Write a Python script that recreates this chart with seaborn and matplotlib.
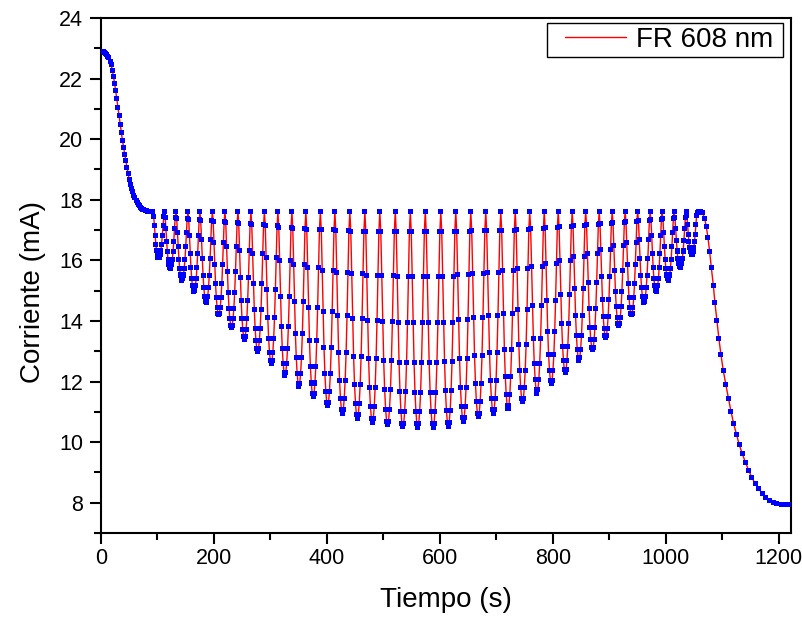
import numpy as np
import pandas as pd
import matplotlib
matplotlib.use("Agg")
import matplotlib.pyplot as plt
import seaborn as sns
from matplotlib.ticker import MultipleLocator
from matplotlib.patches import Rectangle

# Tramo inicial (s, mA)
t_inicio = [0, 2, 4, 6, 8, 10, 12, 14, 16, 18, 20, 22, 24, 26, 28, 30, 32, 34, 36, 38,
            40, 42, 44, 46, 48, 50, 52, 54, 56, 58, 60, 62, 64, 66, 68, 70, 72, 74, 76,
            78, 80, 82, 84, 86, 88, 90]
i_inicio = [22.90, 22.90, 22.88, 22.86, 22.83, 22.79, 22.74, 22.68, 22.58, 22.45, 22.28,
            22.08, 21.85, 21.60, 21.33, 21.05, 20.77, 20.50, 20.22, 19.96, 19.72, 19.50,
            19.28, 19.06, 18.86, 18.68, 18.52, 18.38, 18.26, 18.15, 18.06, 17.98, 17.91,
            17.85, 17.80, 17.76, 17.72, 17.69, 17.67, 17.65, 17.63, 17.62, 17.61, 17.60,
            17.60, 17.60]

# Máximos de cada pulso (s) y mínimo de cada valle (mA)
t_picos = [92.0, 112.4, 132.7, 154.0, 175.2, 197.3, 219.5, 242.5, 265.5, 289.4, 313.3,
           338.1, 362.8, 388.5, 414.2, 440.7, 467.3, 493.8, 521.2, 547.8, 574.3, 601.8,
           628.3, 654.9, 681.4, 708.0, 733.6, 759.3, 785.0, 809.7, 834.5, 858.4, 882.3,
           905.3, 928.3, 950.4, 972.6, 993.8, 1015.0, 1036.3, 1056.0]
i_valles = [16.08, 15.72, 15.35, 14.96, 14.60, 14.20, 13.80, 13.40, 13.00, 12.60, 12.20,
            11.85, 11.50, 11.20, 10.95, 10.78, 10.65, 10.57, 10.50, 10.48, 10.48, 10.53,
            10.68, 10.83, 10.96, 11.10, 11.33, 11.62, 11.95, 12.30, 12.70, 13.05, 13.45,
            13.85, 14.20, 14.60, 14.96, 15.35, 15.75, 16.18]
i_max = 17.6
forma_pulso = [0.0, 0.093, 0.30, 0.515, 0.698, 0.836, 0.926, 0.983, 1.0,
               0.983, 0.926, 0.836, 0.698, 0.515, 0.30, 0.093]

# Tramo final
t_final = [1056, 1059, 1062, 1065, 1069.0, 1072.0, 1074.9, 1077.9, 1080.9, 1084.4, 1087.3,
           1090.8, 1094.3, 1097.9, 1102.1, 1106.7, 1111.5, 1115.6, 1120.4, 1125.7,
           1130.4, 1135.8, 1141.6, 1147.4, 1152.7, 1158.8, 1164.6, 1171.2, 1177.5,
           1184.6, 1191.2, 1197.0, 1204.8, 1213.6, 1217.7, 1221.0]
i_final = [17.58, 17.61, 17.62, 17.58, 17.39, 17.11, 16.76, 16.29, 15.76, 15.18, 14.60,
           14.00, 13.42, 12.89, 12.36, 11.89, 11.43, 11.02, 10.61, 10.24, 9.91, 9.61,
           9.32, 9.05, 8.83, 8.62, 8.46, 8.31, 8.18, 8.08, 8.02, 7.98, 7.95, 7.94, 7.93,
           7.93]

# Armar la serie completa
tiempo = list(t_inicio)
corriente = list(i_inicio)
for n, minimo in enumerate(i_valles):
    t0, t1 = t_picos[n], t_picos[n + 1]
    for k, f in enumerate(forma_pulso):
        tiempo.append(t0 + (t1 - t0) * k / len(forma_pulso))
        corriente.append(i_max - (i_max - minimo) * f)
tiempo += t_final
corriente += i_final

df = pd.DataFrame({"Tiempo": tiempo, "Corriente": corriente})

sns.set_style("ticks")
plt.rcParams["font.family"] = ["Liberation Sans", "DejaVu Sans"]
plt.rcParams["text.color"] = "black"
plt.rcParams["axes.labelcolor"] = "black"
plt.rcParams["xtick.color"] = "black"
plt.rcParams["ytick.color"] = "black"

fig = plt.figure(figsize=(8.03, 6.18), dpi=100)
ax = fig.add_axes([101 / 803, 1 - 533 / 618, 690 / 803, 515 / 618])

sns.lineplot(data=df, x="Tiempo", y="Corriente", sort=False, estimator=None,
             color="#ff0000", linewidth=1.0, label="FR 608 nm", ax=ax, zorder=2)
sns.scatterplot(data=df, x="Tiempo", y="Corriente", marker="s", s=13, color="#0000ff",
                edgecolor="none", linewidth=0, legend=False, ax=ax, zorder=3)

ax.set_xlim(0, 1222)
ax.set_ylim(7, 24)
ax.xaxis.set_major_locator(MultipleLocator(200))
ax.xaxis.set_minor_locator(MultipleLocator(100))
ax.yaxis.set_major_locator(MultipleLocator(2))
ax.yaxis.set_minor_locator(MultipleLocator(1))
ax.tick_params(which="major", direction="out", length=8, width=1.5, labelsize=15.5,
               color="black", labelcolor="black")
ax.tick_params(axis="x", which="major", pad=3)
ax.tick_params(axis="y", which="major", pad=5)
ax.tick_params(which="minor", direction="out", length=5, width=1.5)
for lado in ax.spines.values():
    lado.set_linewidth(1.5)
    lado.set_color("black")

ax.set_xlabel("Tiempo (s)", fontsize=20, labelpad=13)
ax.set_ylabel("Corriente (mA)", fontsize=20)
ax.yaxis.set_label_coords(-0.08, 0.468)

# leyenda: cuadro con más margen a la izquierda
leg = ax.legend(loc="upper right", bbox_to_anchor=(0.9797, 0.9903), borderaxespad=0,
                fontsize=20, frameon=False, borderpad=0.15, handlelength=2.2,
                handletextpad=0.35, labelcolor="black")
leg.set_zorder(5)
fig.canvas.draw()
bb = leg.get_window_extent().transformed(fig.transFigure.inverted())
caja = Rectangle((bb.x0 - 14 / 803, bb.y0), bb.width + 20 / 803, bb.height,
                 transform=fig.transFigure, facecolor="white", edgecolor="black",
                 linewidth=1.0, zorder=4, clip_on=False)
ax.add_patch(caja)

fig.savefig("out.png", dpi=100)
plt.close()
